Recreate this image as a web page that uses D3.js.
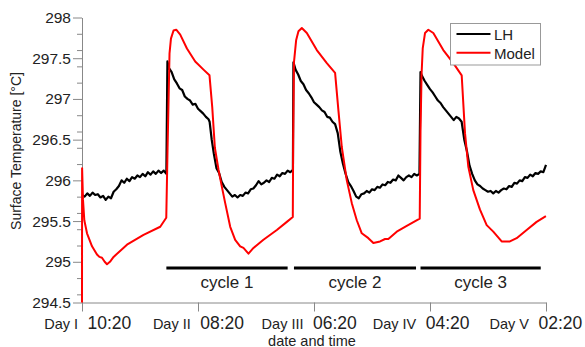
<!DOCTYPE html>
<html>
<head>
<meta charset="utf-8">
<script src="https://cdn.jsdelivr.net/npm/d3@7"></script>
<style>
body { margin: 0; background: #fff; }
text { font-family: "Liberation Sans", Arial, sans-serif; fill: #222; }
</style>
</head>
<body>
<div id="chart"></div>
<script>
// x values are hours since Day I 10:20
let tickHours = [0, 22, 44, 66, 88];
let dayLabels = ["Day I", "Day II", "Day III", "Day IV", "Day V"];
let timeLabels = ["10:20", "08:20", "06:20", "04:20", "02:20"];

let cycleNames = ["cycle 1", "cycle 2", "cycle 3"];
let cycleStart = [16.0, 40.2, 64.2];
let cycleEnd = [39.0, 63.35, 87.0];

let seriesNames = ["LH", "Model"];

// LH measurement [hour, °C]
let lhSeries = [
    [0.0, 295.82], [0.5, 295.80], [1.0, 295.84], [1.5, 295.81], [2.0, 295.85], [2.5, 295.82], [3.0, 295.83], [3.5, 295.79],
    [4.0, 295.81], [4.5, 295.76], [5.0, 295.80], [5.5, 295.78], [6.0, 295.86], [6.5, 295.89], [7.0, 295.93], [7.5, 296.00],
    [8.0, 295.97], [8.5, 296.02], [9.0, 295.99], [9.5, 296.04], [10.0, 296.02], [10.5, 296.06], [11.0, 296.04], [11.5, 296.08],
    [12.0, 296.05], [12.5, 296.10], [13.0, 296.07], [13.5, 296.11], [14.0, 296.08], [14.5, 296.12], [15.0, 296.09], [15.5, 296.12],
    [16.0, 296.08], [16.2, 297.46], [16.5, 297.38], [17.0, 297.33], [17.5, 297.24], [18.0, 297.19], [18.5, 297.13], [19.0, 297.11],
    [19.5, 297.03], [20.0, 297.00], [20.5, 296.98], [21.0, 296.93], [21.5, 296.94], [22.0, 296.88], [22.5, 296.85], [23.0, 296.82],
    [23.5, 296.78], [24.0, 296.75], [24.2, 296.72], [24.6, 296.50], [25.0, 296.33], [25.5, 296.15], [26.0, 296.09], [26.5, 295.98],
    [27.0, 295.92], [27.5, 295.88], [28.0, 295.84], [28.5, 295.80], [29.0, 295.82], [29.5, 295.79], [30.0, 295.82], [30.5, 295.81],
    [31.0, 295.85], [31.5, 295.84], [32.0, 295.89], [32.5, 295.90], [33.0, 295.94], [33.5, 295.99], [34.0, 295.95], [34.5, 295.97],
    [35.0, 296.00], [35.5, 295.98], [36.0, 296.03], [36.5, 296.02], [37.0, 296.07], [37.5, 296.05], [38.0, 296.09], [38.5, 296.08],
    [39.0, 296.12], [39.5, 296.10], [40.0, 296.13], [40.1, 297.45], [40.5, 297.36], [41.0, 297.30], [41.5, 297.22], [42.0, 297.18],
    [42.5, 297.11], [43.0, 297.07], [43.5, 297.02], [44.0, 296.96], [44.5, 296.93], [45.0, 296.90], [45.5, 296.86], [46.0, 296.84],
    [46.5, 296.78], [47.0, 296.77], [47.5, 296.72], [48.0, 296.69], [48.5, 296.58], [49.0, 296.35], [49.5, 296.20], [50.0, 296.08],
    [50.5, 295.98], [51.0, 295.93], [51.5, 295.87], [52.0, 295.80], [52.5, 295.78], [53.0, 295.83], [53.5, 295.84], [54.0, 295.87],
    [54.5, 295.85], [55.0, 295.89], [55.5, 295.88], [56.0, 295.92], [56.5, 295.91], [57.0, 295.95], [57.5, 295.94], [58.0, 295.98],
    [58.5, 295.97], [59.0, 296.01], [59.5, 296.00], [60.0, 296.06], [60.5, 296.03], [61.0, 296.00], [61.5, 296.04], [62.0, 296.06],
    [62.5, 296.04], [63.0, 296.08], [63.5, 296.06], [64.0, 296.08], [64.2, 297.33], [64.5, 297.28], [65.0, 297.22], [65.5, 297.17],
    [66.0, 297.12], [66.5, 297.08], [67.0, 297.03], [67.5, 296.98], [68.0, 296.95], [68.5, 296.90], [69.0, 296.86], [69.5, 296.82],
    [70.0, 296.78], [70.5, 296.74], [71.0, 296.78], [71.5, 296.76], [72.0, 296.72], [72.5, 296.50], [73.0, 296.36], [73.5, 296.18],
    [74.0, 296.08], [74.5, 296.00], [75.0, 295.95], [75.5, 295.93], [76.0, 295.90], [76.5, 295.88], [77.0, 295.86], [77.5, 295.87],
    [78.0, 295.84], [78.5, 295.87], [79.0, 295.85], [79.5, 295.88], [80.0, 295.90], [80.5, 295.89], [81.0, 295.93], [81.5, 295.92],
    [82.0, 295.97], [82.5, 295.96], [83.0, 296.00], [83.5, 295.99], [84.0, 296.04], [84.5, 296.03], [85.0, 296.07], [85.5, 296.05],
    [86.0, 296.09], [86.5, 296.08], [87.0, 296.11], [87.5, 296.10], [88.0, 296.19]
];

// model output [hour, °C]
let modelSeries = [
    [0, 294.5], [0.02, 296.15], [0.19, 295.76], [0.44, 295.51], [0.95, 295.35], [1.9, 295.19], [2.84, 295.09], [3.3, 295.06],
    [3.79, 295.05], [4.3, 295.0], [4.74, 294.97], [5.3, 295.0], [5.99, 295.06], [8.53, 295.21], [11.67, 295.33], [14.84, 295.43],
    [15.98, 295.54], [16.22, 296.37], [16.6, 297.56], [16.87, 297.74], [17.36, 297.84], [17.87, 297.85], [18.63, 297.79], [19.9, 297.62],
    [21.47, 297.46], [23.04, 297.36], [24.18, 297.29], [24.7, 296.9], [25.2, 296.4], [25.89, 296.13], [26.53, 295.92], [27.16, 295.72],
    [28.11, 295.43], [29.05, 295.27], [30.0, 295.19], [30.62, 295.17], [31.57, 295.10], [32.52, 295.17], [34.41, 295.27], [36.95, 295.39],
    [38.85, 295.49], [39.98, 295.55], [40.05, 296.5], [40.2, 297.45], [40.61, 297.72], [41.05, 297.83], [41.69, 297.87], [42.64, 297.81],
    [44.53, 297.60], [46.43, 297.44], [48.0, 297.32], [48.63, 296.86], [49.27, 296.41], [50.22, 296.0], [51.17, 295.72], [52.11, 295.51],
    [53.06, 295.35], [54.31, 295.29], [55.26, 295.23], [56.53, 295.25], [57.48, 295.28], [58.1, 295.28], [59.69, 295.37], [61.59, 295.44],
    [63.79, 295.52], [64.05, 295.53], [64.2, 296.6], [64.4, 297.3], [64.62, 297.62], [65.06, 297.81], [65.68, 297.85], [66.63, 297.81],
    [68.52, 297.60], [70.42, 297.44], [72.01, 297.29], [72.64, 296.58], [73.26, 296.17], [74.21, 295.88], [75.48, 295.64], [76.75, 295.45],
    [78.0, 295.37], [79.59, 295.25], [81.16, 295.25], [82.43, 295.29], [84.33, 295.39], [86.22, 295.49], [87.98, 295.56]
];

let _default = {
    width: 585,
    height: 347,
    left: 82,
    right: 546,
    top: 17.5,
    bottom: 302.5,
    axis: "#888",
    lh: "#000",
    model: "#ff0000"
};

let svg = d3.select("div#chart")
    .append("svg")
    .attr("width", _default.width)
    .attr("height", _default.height);

let x = d3.scaleLinear().domain([0, 88]).range([_default.left, _default.right]);
let y = d3.scaleLinear().domain([294.5, 298]).range([_default.bottom, _default.top]);

let majorY = y.ticks(7);
let minorY = y.ticks(14).filter(d => majorY.indexOf(d) < 0);

// y axis
let gy = svg.append("g")
    .attr("transform", `translate(${_default.left},0)`)
    .call(d3.axisLeft(y).tickValues(majorY).tickSize(9).tickSizeOuter(0).tickPadding(2).tickFormat(d => String(d)));
gy.selectAll("text").attr("font-size", 15.5);
svg.append("g")
    .attr("transform", `translate(${_default.left},0)`)
    .call(d3.axisLeft(y).tickValues(minorY).tickSize(5).tickFormat(""))
    .call(g => g.select(".domain").remove());

// x axis: the time part of each label drifts left of its tick towards the right end
let timeShift = i => 5 - 3.25 * i;
let gx = svg.append("g")
    .attr("transform", `translate(0,${_default.bottom})`)
    .call(d3.axisBottom(x).tickValues(tickHours).tickSize(9).tickSizeOuter(0).tickFormat(""));
gx.selectAll(".tick").append("text")
    .attr("x", (d, i) => timeShift(i))
    .attr("y", 26.5)
    .attr("text-anchor", "start")
    .attr("font-size", 17.5)
    .text((d, i) => timeLabels[i]);
gx.selectAll(".tick").append("text")
    .attr("x", (d, i) => timeShift(i) - 9.5)
    .attr("y", 26.5)
    .attr("text-anchor", "end")
    .attr("font-size", 14.5)
    .text((d, i) => dayLabels[i]);

svg.selectAll(".domain, .tick line").attr("stroke", _default.axis);

// axis titles
svg.append("text")
    .attr("transform", `translate(20.5,151) rotate(-90)`)
    .attr("text-anchor", "middle")
    .attr("font-size", 14)
    .text("Surface Temperature [°C]");
svg.append("text")
    .attr("x", (_default.left + _default.right) / 2 - 2)
    .attr("y", 345.5)
    .attr("text-anchor", "middle")
    .attr("font-size", 14.5)
    .text("date and time");

// curves
let line = d3.line().x(d => x(d[0])).y(d => y(d[1]));
svg.append("path")
    .attr("d", line(lhSeries))
    .attr("fill", "none")
    .attr("stroke", _default.lh)
    .attr("stroke-width", 2.2)
    .attr("stroke-linejoin", "round");
svg.append("path")
    .attr("d", line(modelSeries))
    .attr("fill", "none")
    .attr("stroke", _default.model)
    .attr("stroke-width", 2)
    .attr("stroke-linejoin", "round");

// cycle bars
let cyc = svg.selectAll("g.cycle").data(cycleNames).enter().append("g").attr("class", "cycle");
cyc.append("line")
    .attr("x1", (d, i) => x(cycleStart[i]))
    .attr("x2", (d, i) => x(cycleEnd[i]))
    .attr("y1", 268)
    .attr("y2", 268)
    .attr("stroke", "#000")
    .attr("stroke-width", 3);
cyc.append("text")
    .attr("x", (d, i) => (x(cycleStart[i]) + x(cycleEnd[i])) / 2)
    .attr("y", 288)
    .attr("text-anchor", "middle")
    .attr("font-size", 17)
    .text(d => d);

// legend
let lg = svg.append("g").attr("transform", "translate(450.5,23.5)");
lg.append("rect")
    .attr("width", 90)
    .attr("height", 41.5)
    .attr("fill", "#fff")
    .attr("stroke", "#999");
let li = lg.selectAll("g").data(seriesNames).enter().append("g")
    .attr("transform", (d, i) => `translate(0,${10.5 + i * 18.7})`);
li.append("line")
    .attr("x1", 6)
    .attr("x2", 40)
    .attr("stroke", (d, i) => i == 0 ? _default.lh : _default.model)
    .attr("stroke-width", 2);
li.append("text")
    .attr("x", 43.5)
    .attr("y", 6)
    .attr("font-size", 15)
    .text(d => d);
</script>
</body>
</html>
